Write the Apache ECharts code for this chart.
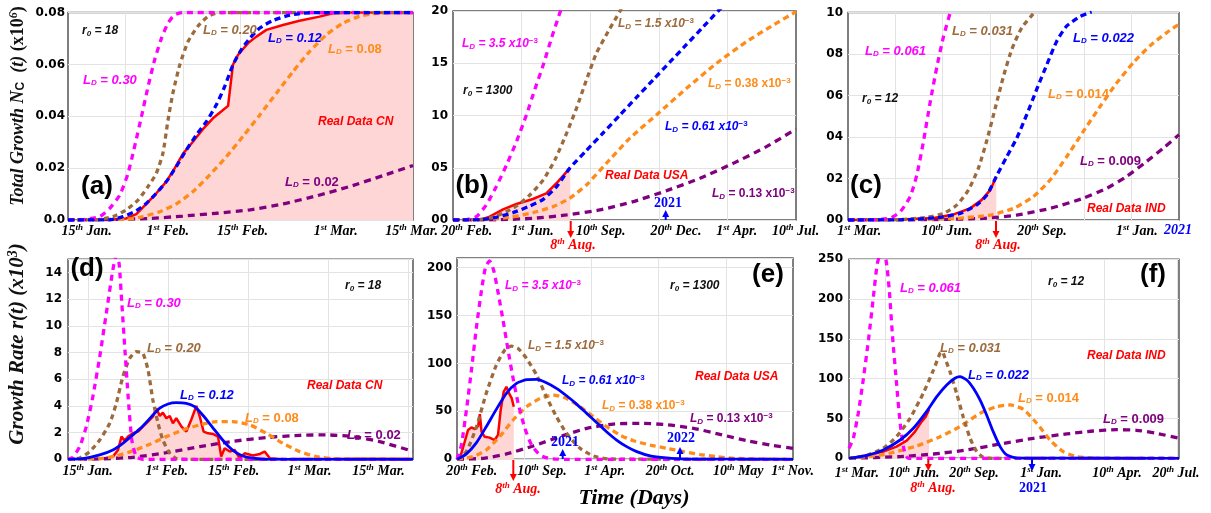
<!DOCTYPE html>
<html>
<head>
<meta charset="utf-8">
<script src="https://cdn.jsdelivr.net/npm/echarts@6/dist/echarts.min.js"></script>
<style>
  html, body { margin: 0; padding: 0; background: #fff; }
  #main { width: 1211px; height: 513px; }
</style>
</head>
<body>
<div id="main"></div>
<script>
// x is the position along each panel's time axis, 0..100 (left to right edge)

// ---- (a) total growth, China, r0 = 18 ----
var aMag = [[0,0],[5.3,0.0003],[9.2,0.0013],[12.1,0.0045],[15.0,0.0096],[17.4,0.018],[19.3,0.0283],[21.3,0.0399],[23.2,0.0514],[25.1,0.0617],[27.1,0.0701],[29.0,0.0759],[30.9,0.0791],[33.3,0.08],[100,0.08]]
var aBrown = [[0,0],[8.2,0.0001],[13.0,0.0013],[16.9,0.0039],[20.3,0.0077],[23.2,0.0129],[25.6,0.018],[27.5,0.0257],[29.0,0.0386],[30.4,0.0489],[32.4,0.0598],[34.8,0.0688],[37.7,0.0748],[40.6,0.0785],[44.0,0.08],[100,0.08]]
var aBlue = [[0,0],[12.1,0.0001],[15.9,0.0013],[19.8,0.0036],[22.7,0.0064],[25.6,0.0103],[28.5,0.0148],[31.4,0.0206],[34.3,0.027],[37.2,0.0328],[40.1,0.0379],[43.0,0.0444],[45.4,0.0514],[47.8,0.0598],[50.2,0.0656],[52.7,0.0701],[55.6,0.074],[59.4,0.0769],[64.3,0.079],[70.0,0.0799],[100,0.08]]
var aOrange = [[0,0],[16.9,0.0003],[21.7,0.0013],[26.6,0.0032],[31.4,0.0062],[36.2,0.0109],[41.1,0.0174],[45.9,0.0244],[50.7,0.0322],[55.6,0.0405],[60.4,0.0489],[65.2,0.0572],[70.0,0.0649],[74.9,0.0714],[79.7,0.0759],[84.5,0.0785],[89.4,0.0797],[94.2,0.08],[100,0.08]]
var aPurple = [[0,0],[9.2,0.0001],[23.7,0.0006],[33.3,0.0015],[43.0,0.0026],[52.7,0.0039],[62.3,0.0062],[72.0,0.0093],[81.6,0.0129],[91.3,0.0171],[100,0.021]]
var aReal = [[12.1,0.0001],[16.9,0.0006],[19.8,0.0023],[22.7,0.0062],[25.6,0.0103],[28.5,0.0148],[30.9,0.0199],[33.3,0.0255],[36.2,0.0302],[39.1,0.035],[42.0,0.0392],[44.4,0.0418],[46.4,0.044],[47.8,0.0598],[49.3,0.0637],[52.2,0.0682],[54.6,0.0707],[57.5,0.0733],[62.3,0.0752],[67.1,0.0768],[72.9,0.0784],[76.8,0.0797],[81.6,0.08],[100,0.08]]
var aTickPos = [5.4, 28.9, 50.6, 77.6, 99.6]
var aTickText = ['15|th|Jan.', '1|st|Feb.', '15|th|Feb.', '1|st|Mar.', '15|th|Mar.']
var aGrid = [16.67, 33.33, 50, 66.67, 83.33]

// ---- (b) total growth, USA, r0 = 1300 ----
var bMag = [[0,0],[3.9,0.03],[6.8,0.32],[9.7,1.44],[12.6,3.19],[15.6,5.26],[18.5,7.5],[21.4,10.05],[23.8,12.44],[26.3,14.83],[28.7,17.38],[31.1,19.78],[32.1,20.7]]
var bBrown = [[0,0],[6.8,0.03],[10.7,0.19],[14.6,0.64],[18.5,1.34],[22.4,2.39],[26.3,3.83],[29.7,5.74],[33.1,8.29],[36.0,10.69],[38.9,13.4],[41.8,15.95],[45.2,18.02],[48.6,19.94],[49.6,20.6]]
var bBlue = [[0,0],[7.8,0.03],[12.6,0.26],[17.5,0.7],[22.4,1.34],[26.3,1.98],[30.2,3.19],[34.0,4.94],[38.9,6.65],[43.8,8.35],[48.6,10.02],[53.5,11.73],[58.4,13.43],[63.2,15.1],[68.1,16.8],[73.0,18.5],[77.3,20.0],[78.5,20.4]]
var bOrange = [[0,0],[9.7,0.03],[16.5,0.26],[23.3,0.7],[29.2,1.28],[34.0,2.07],[38.9,3.35],[44.7,5.42],[51.5,7.81],[59.3,10.05],[68.1,12.6],[76.8,14.99],[85.6,17.07],[93.4,18.66],[100,19.94]]
var bPurple = [[0,0],[13.6,0.03],[23.3,0.16],[33.1,0.48],[42.8,0.96],[52.5,1.75],[62.3,2.81],[72.0,3.99],[81.7,5.42],[91.4,7.02],[100,8.71]]
var bReal = [[7.8,0],[10.7,0.32],[14.6,1.02],[18.5,1.53],[23.3,2.01],[27.2,2.55],[30.6,3.67],[34.2,5.01]]
var bTickPos = [4.0, 23.2, 43.1, 65.0, 82.7, 99.9]
var bTickText = ['20|th|Feb.', '1|st|Jun.', '10|th|Sep.', '20|th|Dec.', '1|st|Apr.', '10|th|Jul.']
var bGrid = [20, 40, 60, 80]

// ---- (c) total growth, India, r0 = 12 ----
var cMag = [[0,0],[8.8,0.02],[12.8,0.1],[15.8,0.4],[18.8,1.13],[20.8,2.18],[22.8,3.79],[24.8,5.65],[26.9,7.42],[28.9,8.87],[30.9,10.0],[31.4,10.24]]
var cBrown = [[0,0],[15.8,0.02],[23.8,0.13],[28.9,0.32],[32.9,0.73],[36.4,1.45],[39.4,2.5],[42.0,3.87],[44.5,5.4],[47.0,6.94],[49.5,8.23],[52.5,9.27],[56.5,10.03]]
var cBlue = [[0,0],[18.8,0.02],[27.9,0.13],[33.9,0.32],[38.9,0.73],[42.0,1.21],[44.8,2.1],[48.0,3.06],[51.0,3.95],[54.0,5.08],[57.0,6.29],[60.1,7.5],[63.1,8.63],[66.1,9.35],[70.1,9.81],[73.6,10.03]]
var cOrange = [[0,0],[20.8,0.02],[32.9,0.08],[43.0,0.24],[50.0,0.56],[56.0,1.13],[61.1,1.94],[66.1,3.06],[71.1,4.27],[76.2,5.48],[81.2,6.61],[86.2,7.58],[91.2,8.39],[96.3,9.03],[100,9.44]]
var cPurple = [[0,0],[25.9,0.02],[40.9,0.08],[51.0,0.24],[61.1,0.56],[71.1,1.05],[78.2,1.53],[84.2,2.1],[90.2,2.82],[95.3,3.47],[100,4.11]]
var cReal = [[0,0],[15.8,0.02],[25.9,0.1],[31.9,0.27],[36.9,0.56],[40.4,0.97],[43.0,1.45],[44.8,2.1]]
var cTickPos = [3.4, 29.9, 58.6, 87.3, 99.7]
var cTickText = ['1|st|Mar.', '10|th|Jun.', '20|th|Sep.', '1|st|Jan.', '2021']
var cGrid = [14.29, 28.57, 42.86, 57.14, 71.43, 85.71]

// ---- (d) growth rate, China ----
var dMag = [[0,0],[1.4,0.15],[3.4,0.95],[5.3,2.45],[7.2,4.7],[9.2,7.7],[11.1,10.95],[13.0,14.2],[14.0,15.3],[14.8,14.7],[15.6,11.7],[16.5,8.2],[17.5,4.45],[18.5,1.45],[19.8,0.2],[21.7,0],[100,0]]
var dBrown = [[0,0],[3.4,0.1],[6.3,0.58],[9.2,1.45],[12.1,2.7],[14.0,4.2],[15.9,6.2],[17.9,7.58],[19.8,8.08],[21.7,7.95],[23.2,6.7],[24.6,4.45],[26.1,2.7],[27.5,1.45],[29.5,0.45],[31.4,0.05],[34.3,0],[100,0]]
var dBlue = [[0,0],[4.3,0.05],[9.2,0.33],[13.0,0.7],[15.9,1.2],[18.8,1.83],[21.7,2.5],[24.2,3.2],[26.6,3.83],[29.0,4.15],[31.4,4.25],[34.3,4.2],[36.7,3.95],[38.6,3.45],[40.6,2.83],[42.5,2.2],[44.4,1.58],[46.4,1.0],[48.3,0.58],[50.7,0.25],[53.6,0.08],[57.5,0],[100,0]]
var dOrange = [[0,0],[9.2,0.05],[14.0,0.25],[18.8,0.63],[23.7,1.13],[28.5,1.7],[33.3,2.2],[38.2,2.58],[43.0,2.83],[47.8,2.83],[52.7,2.58],[57.5,1.95],[62.3,1.2],[67.1,0.58],[72.0,0.2],[76.8,0.05],[100,0]]
var dPurple = [[0,0],[9.2,0.03],[18.8,0.15],[28.5,0.5],[38.2,0.95],[47.8,1.35],[57.5,1.63],[67.1,1.8],[74.9,1.83],[82.6,1.7],[90.3,1.33],[100,0.6]]
var dReal = [[9.2,0],[13.0,0.2],[14.5,0.7],[15.5,1.7],[16.4,1.4],[17.4,1.7],[18.8,1.95],[20.3,2.08],[21.7,2.45],[23.2,2.83],[24.6,3.2],[25.6,3.83],[26.6,3.25],[27.5,3.5],[28.5,3.08],[29.5,3.25],[30.4,2.7],[31.4,3.08],[32.9,2.45],[34.3,2.08],[35.7,2.95],[37.2,4.0],[38.2,3.2],[39.3,2.08],[40.6,1.95],[42.0,1.9],[43.5,1.7],[44.4,0.2],[45.4,0.83],[46.9,0.58],[48.3,0.7],[49.8,0.08],[51.2,0.45],[53.6,0.28],[55.6,0.4],[57.0,0.58],[58.5,0.08],[62.3,0],[67.1,0.03],[76.8,0.03],[86.5,0.05],[100,0.03]]
var dTickPos = [5.7, 28.6, 48.0, 70.0, 90.0]
var dTickText = ['15|th|Jan.', '1|st|Feb.', '15|th|Feb.', '1|st|Mar.', '15|th|Mar.']
var dGrid = [5.8, 29.0, 52.2, 75.4, 98.6]

// ---- (e) growth rate, USA ----
var eMag = [[0,0],[1.3,14.9],[2.8,51.4],[4.3,93.1],[5.8,138.2],[7.3,176.4],[8.5,200.7],[9.7,206.9],[10.9,197.2],[12.2,174.7],[13.7,145.1],[15.2,113.9],[16.7,84.4],[18.2,58.3],[20.2,32.3],[22.2,14.9],[24.7,4.5],[27.6,0.7],[32.6,0],[100,0]]
var eBrown = [[0,0],[2.8,8.0],[5.8,34.0],[8.7,68.8],[11.7,98.3],[14.2,113.9],[16.2,118.1],[18.2,115.6],[20.7,105.2],[23.7,87.8],[26.6,65.3],[29.6,44.4],[32.6,27.1],[36.6,11.5],[40.6,3.5],[45.5,0.3],[100,0]]
var eBlue = [[0,0],[2.8,5.6],[5.8,17.4],[8.7,34.0],[11.7,52.1],[14.7,68.8],[17.7,79.2],[20.7,83.0],[23.7,83.3],[26.6,79.9],[29.6,74.0],[32.6,66.3],[35.6,57.6],[38.6,47.9],[41.6,38.2],[44.5,28.8],[47.5,20.1],[50.5,13.2],[53.5,8.0],[57.5,3.5],[62.4,1.4],[67.4,0.3],[100,0]]
var eOrange = [[0,0],[4.8,2.8],[8.7,9.7],[12.7,23.6],[16.7,41.0],[20.7,54.9],[24.7,63.5],[28.6,67.0],[32.6,63.5],[36.6,54.9],[40.6,44.4],[44.5,34.0],[48.5,25.3],[52.5,19.4],[57.5,14.9],[62.4,11.5],[67.4,8.0],[72.4,4.9],[77.3,2.8],[82.3,1.0],[100,0]]
var ePurple = [[0,0],[7.8,1.0],[14.7,5.6],[22.7,13.9],[30.6,23.6],[38.6,32.3],[46.5,36.8],[54.5,37.5],[62.4,36.1],[70.4,32.3],[78.3,26.0],[86.3,19.4],[93.2,14.9],[100,11.5]]
var eReal = [[0.3,0],[1.3,6.3],[2.3,18.4],[3.3,30.6],[4.3,33.3],[5.3,31.6],[6.3,34.7],[6.8,47.2],[7.3,28.8],[8.2,23.6],[9.7,22.6],[11.2,20.1],[12.2,25.3],[13.0,51.4],[13.9,70.5],[14.7,75.7],[15.5,68.8],[16.3,63.5],[16.9,54.9]]
var eTickPos = [4.4, 25.3, 44.0, 63.4, 83.7, 99.9]
var eTickText = ['20|th|Feb.', '10|th|Sep.', '1|st|Apr.', '20|th|Oct.', '10|th|May', '1|st|Nov.']
var eGrid = [20, 40, 60, 80]

// ---- (f) growth rate, India ----
var fMag = [[0,12.6],[1.3,25.1],[2.8,56.5],[4.3,98.4],[5.9,148.7],[7.4,203.1],[8.6,245.0],[9.9,259.6],[11.2,249.2],[12.2,211.5],[13.2,152.8],[14.4,94.2],[15.5,44.0],[16.7,10.5],[18.0,0],[100,0]]
var fBrown = [[0,0],[5.4,3.8],[10.4,12.6],[14.4,27.2],[18.5,50.3],[22.5,81.7],[25.6,111.0],[27.6,131.9],[28.3,134],[29.1,125.6],[30.6,108.9],[32.6,81.7],[34.6,52.3],[36.7,25.1],[38.7,8.4],[40.7,1.3],[43.7,0],[100,0]]
var fBlue = [[0,0],[5.4,3.8],[10.4,10.5],[15.5,23.0],[19.5,37.7],[23.5,58.6],[26.6,77.5],[29.6,92.1],[32.1,100.5],[33.6,102.6],[35.7,98.4],[37.7,87.9],[39.7,73.3],[41.7,54.4],[43.7,33.5],[45.8,14.7],[47.8,4.2],[50.8,0.4],[100,0]]
var fOrange = [[0,0],[10.4,4.6],[20.5,15.5],[27.6,27.2],[33.6,39.8],[39.7,56.5],[44.7,64.9],[48.8,67.0],[52.8,61.6],[56.9,44.0],[60.9,23.0],[64.9,8.4],[69.0,2.1],[76.1,0],[100,0]]
var fPurple = [[0,0],[15.5,2.1],[25.6,5.4],[35.7,10.5],[45.8,18.0],[55.9,25.1],[66.0,30.6],[74.0,34.3],[81.1,36.0],[87.1,35.2],[93.2,31.4],[100,25.1]]
var fReal = [[0.3,0],[5.4,3.4],[10.4,8.4],[14.4,14.7],[17.5,22.2],[20.0,33.5],[22.0,46.1],[23.2,52.0],[24.3,61.6]]
var fTickPos = [2.4, 19.7, 37.9, 58.2, 81.2, 99.1]
var fTickText = ['1|st|Mar.', '10|th|Jun.', '20|th|Sep.', '1|st|Jan.', '10|th|Apr.', '20|th|Jul.']
var fGrid = [10.9, 33.0, 55.2, 77.3, 99.4]

var C = { mag: '#ff00ff', brown: '#9c6b3d', blue: '#0000ff', orange: '#ff8c1a', purple: '#800080', red: '#ff0000' }
var DASH = { mag: [6, 5], brown: [5, 4], blue: [6, 4], orange: [6, 4], purple: [7, 5] }
var SERIF = 'Liberation Serif'
var SANS = 'Liberation Sans'

var xRich = {
  n: { fontFamily: SERIF, fontWeight: 'bold', fontStyle: 'italic', fontSize: 14, color: '#000' },
  s: { fontFamily: SERIF, fontWeight: 'bold', fontStyle: 'italic', fontSize: 9, color: '#000', padding: [0, 0, 7, 0] },
  y: { fontFamily: SERIF, fontWeight: 'bold', fontStyle: 'italic', fontSize: 14, color: '#0000ff' }
}

var grids = []
var xAxes = []
var yAxes = []
var series = []

function addPanel(i, p) {
  grids.push({
    left: p.box[0], top: p.box[1], width: p.box[2], height: p.box[3],
    show: true, borderColor: '#555', borderWidth: 1.5, backgroundColor: '#fff'
  })
  xAxes.push({
    gridIndex: i, type: 'value', min: 0, max: 100,
    axisLine: { show: false },
    // hidden ticks only place the vertical grid lines
    axisTick: { show: false, customValues: p.grid },
    splitLine: { show: true, lineStyle: { color: '#e3e3e3', width: 1 } },
    axisLabel: {
      customValues: p.tickPos, interval: 0, margin: p.xMargin, rich: xRich,
      formatter: function(v) {
        var k = p.tickPos.indexOf(v)
        if (k < 0) return ''
        var t = p.tickText[k]
        if (t.indexOf('|') < 0) return '{y|' + t + '}'
        var s = t.split('|')
        return '{n|' + s[0] + '}{s|' + s[1] + '}{n| ' + s[2] + '}'
      }
    }
  })
  yAxes.push({
    gridIndex: i, type: 'value', min: 0, max: p.yMax, interval: p.yStep,
    axisLine: { show: false }, axisTick: { show: false },
    splitLine: { show: true, lineStyle: { color: '#e3e3e3', width: 1 } },
    axisLabel: {
      margin: p.yMargin, color: '#000', fontFamily: 'DejaVu Sans', fontWeight: 'bold', fontSize: 12,
      formatter: p.yFmt
    }
  })
  // pink area under the real data, then the real data line
  series.push({
    type: 'line', xAxisIndex: i, yAxisIndex: i, data: p.real, showSymbol: false, silent: true, z: 1,
    lineStyle: { width: 0 }, areaStyle: { color: '#ffd6d6', opacity: 1 }
  })
  series.push({
    type: 'line', xAxisIndex: i, yAxisIndex: i, data: p.real, showSymbol: false, silent: true, z: 2,
    lineStyle: { color: C.red, width: 2.5 }
  })
  p.curves.forEach(function(c) {
    series.push({
      type: 'line', xAxisIndex: i, yAxisIndex: i, data: c[0], showSymbol: false, silent: true,
      smooth: 0.2, z: 3,
      lineStyle: { color: C[c[1]], width: c[2] ? 2.8 : 3.3, type: c[2] ? 'solid' : DASH[c[1]] }
    })
  })
}

function pad2(v) { return (v < 10 ? '0' : '') + v }

addPanel(0, {
  box: [68, 12.5, 345, 207.5], grid: aGrid, xMargin: 3, tickPos: aTickPos, tickText: aTickText,
  yMax: 0.08, yStep: 0.02, yMargin: 3,
  yFmt: function(v) { return v === 0 ? '0.0' : v.toFixed(2) },
  real: aReal,
  curves: [[aPurple, 'purple'], [aOrange, 'orange'], [aBrown, 'brown'], [aMag, 'mag'], [aBlue, 'blue']]
})
addPanel(1, {
  box: [453, 11, 343, 209], grid: bGrid, xMargin: 3, tickPos: bTickPos, tickText: bTickText,
  yMax: 20, yStep: 5, yMargin: 5, yFmt: pad2,
  real: bReal,
  curves: [[bPurple, 'purple'], [bOrange, 'orange'], [bBrown, 'brown'], [bMag, 'mag'], [bBlue, 'blue']]
})
addPanel(2, {
  box: [848, 12.5, 331, 207.5], grid: cGrid, xMargin: 3, tickPos: cTickPos, tickText: cTickText,
  yMax: 10, yStep: 2, yMargin: 5, yFmt: pad2,
  real: cReal,
  curves: [[cPurple, 'purple'], [cOrange, 'orange'], [cBrown, 'brown'], [cMag, 'mag'], [cBlue, 'blue']]
})
addPanel(3, {
  box: [68, 259.3, 345, 200], grid: dGrid, xMargin: 4, tickPos: dTickPos, tickText: dTickText,
  yMax: 15, yStep: 2, yMargin: 6,
  yFmt: function(v) { return v % 2 === 0 ? String(v) : '' },
  real: dReal,
  curves: [[dPurple, 'purple'], [dOrange, 'orange'], [dBrown, 'brown'], [dMag, 'mag'], [dBlue, 'blue', true]]
})
addPanel(4, {
  box: [457, 258, 336, 201.3], grid: eGrid, xMargin: 4, tickPos: eTickPos, tickText: eTickText,
  yMax: 210, yStep: 50, yMargin: 5,
  yFmt: function(v) { return v % 50 === 0 ? String(v) : '' },
  real: eReal,
  curves: [[ePurple, 'purple'], [eOrange, 'orange'], [eBrown, 'brown'], [eMag, 'mag'], [eBlue, 'blue', true]]
})
addPanel(5, {
  box: [849, 259.3, 330, 199], grid: fGrid, xMargin: 7, tickPos: fTickPos, tickText: fTickText,
  yMax: 250, yStep: 50, yMargin: 6,
  yFmt: function(v) { return String(v) },
  real: fReal,
  curves: [[fPurple, 'purple'], [fOrange, 'orange'], [fBrown, 'brown'], [fMag, 'mag'], [fBlue, 'blue', true]]
})

// ---- annotations ----
var graphics = []

function text(x, y, str, rich, align) {
  graphics.push({
    type: 'text', x: x, y: y, z: 100, silent: true,
    style: { text: str, rich: rich, align: align || 'left', verticalAlign: 'middle' }
  })
}

function ldNote(x, y, key, val, exp, upright) {
  var col = C[key]
  var big = exp ? 12 : 13
  var rich = {
    l: { fontFamily: SANS, fontWeight: 'bold', fontStyle: 'italic', fontSize: big, fill: col },
    v: { fontFamily: SANS, fontWeight: 'bold', fontStyle: upright ? 'normal' : 'italic', fontSize: big, fill: col },
    d: { fontFamily: SANS, fontWeight: 'bold', fontStyle: 'italic', fontSize: 8, fill: col, padding: [6, 0, 0, 0] },
    e: { fontFamily: SANS, fontWeight: 'bold', fontSize: 8, fill: col, padding: [0, 0, 7, 0] }
  }
  var s = '{l|L}{d|D}{v| = ' + val + '}'
  if (exp) s += '{v| x10}{e|\u22123}'
  text(x, y, s, rich)
}

function r0Note(x, y, val) {
  var rich = {
    v: { fontFamily: SANS, fontWeight: 'bold', fontStyle: 'italic', fontSize: 12, fill: '#111' },
    d: { fontFamily: SANS, fontWeight: 'bold', fontStyle: 'italic', fontSize: 8, fill: '#111', padding: [5, 0, 0, 0] }
  }
  text(x, y, '{v|r}{d|0}{v| = ' + val + '}', rich)
}

function realNote(x, y, str) {
  text(x, y, '{v|' + str + '}', {
    v: { fontFamily: SANS, fontWeight: 'bold', fontStyle: 'italic', fontSize: 12, fill: C.red }
  })
}

function panelTag(x, y, str) {
  text(x, y, '{v|' + str + '}', { v: { fontFamily: SANS, fontWeight: 'bold', fontSize: 26, fill: '#000' } }, 'center')
}

function arrow(x, y0, y1, col) {
  var dir = y1 > y0 ? 1 : -1
  graphics.push({
    type: 'line', z: 100, silent: true,
    shape: { x1: x, y1: y0, x2: x, y2: y1 - dir * 5 },
    style: { stroke: col, lineWidth: 2 }
  })
  graphics.push({
    type: 'polygon', z: 100, silent: true,
    shape: { points: [[x - 3.5, y1 - dir * 7], [x + 3.5, y1 - dir * 7], [x, y1]] },
    style: { fill: col }
  })
}

function augNote(x, y) {
  text(x, y, '{n|8}{s|th}{n| Aug.}', {
    n: { fontFamily: SERIF, fontWeight: 'bold', fontStyle: 'italic', fontSize: 14, fill: C.red },
    s: { fontFamily: SERIF, fontWeight: 'bold', fontStyle: 'italic', fontSize: 9, fill: C.red, padding: [0, 0, 7, 0] }
  }, 'center')
}

function yearNote(x, y, str) {
  text(x, y, '{v|' + str + '}', { v: { fontFamily: SERIF, fontWeight: 'bold', fontSize: 14, fill: C.blue } }, 'center')
}

// (a)
r0Note(82, 31, '18')
ldNote(83, 80, 'mag', '0.30')
ldNote(203, 30, 'brown', '0.20')
ldNote(268, 38, 'blue', '0.12')
ldNote(328, 49, 'orange', '0.08', false, true)
ldNote(285, 182, 'purple', '0.02', false, true)
realNote(318, 122, 'Real Data CN')
panelTag(97, 187, '(a)')
// (b)
ldNote(462, 44, 'mag', '3.5', true)
ldNote(618, 24, 'brown', '1.5', true)
ldNote(708, 84, 'orange', '0.38', true, true)
ldNote(665, 127, 'blue', '0.61', true)
ldNote(712, 194, 'purple', '0.13', true, true)
r0Note(463, 91, '1300')
realNote(605, 176, 'Real Data USA')
panelTag(472, 186, '(b)')
arrow(570.7, 221, 238, C.red)
augNote(573, 245)
arrow(665.7, 220, 210, C.blue)
yearNote(668, 203, '2021')
// (c)
ldNote(865, 51, 'mag', '0.061')
ldNote(952, 31, 'brown', '0.031')
ldNote(1073, 38, 'blue', '0.022')
ldNote(1048, 94, 'orange', '0.014', false, true)
ldNote(1080, 161, 'purple', '0.009', false, true)
r0Note(862, 99, '12')
realNote(1087, 209, 'Real Data IND')
panelTag(866, 186, '(c)')
arrow(996, 221, 238, C.red)
augNote(998, 245)
// (d)
panelTag(87, 269, '(d)')
r0Note(345, 286, '18')
ldNote(127, 303, 'mag', '0.30')
ldNote(147, 348, 'brown', '0.20')
ldNote(180, 395, 'blue', '0.12')
ldNote(245, 418, 'orange', '0.08', false, true)
ldNote(347, 435, 'purple', '0.02', false, true)
realNote(307, 386, 'Real Data CN')
// (e)
panelTag(768, 275, '(e)')
r0Note(670, 286, '1300')
ldNote(505, 286, 'mag', '3.5', true)
ldNote(528, 346, 'brown', '1.5', true)
ldNote(562, 381, 'blue', '0.61', true)
ldNote(602, 406, 'orange', '0.38', true, true)
ldNote(690, 419, 'purple', '0.13', true, true)
realNote(695, 377, 'Real Data USA')
arrow(513.3, 460, 481, C.red)
augNote(518, 489)
arrow(562.7, 459, 449, C.blue)
yearNote(565, 442, '2021')
arrow(680, 459, 447, C.blue)
yearNote(681, 438, '2022')
// (f)
panelTag(1153, 275, '(f)')
r0Note(1048, 282, '12')
ldNote(900, 288, 'mag', '0.061')
ldNote(940, 348, 'brown', '0.031')
ldNote(968, 375, 'blue', '0.022')
ldNote(1018, 398, 'orange', '0.014', false, true)
ldNote(1103, 419, 'purple', '0.009', false, true)
realNote(1087, 356, 'Real Data IND')
arrow(928.3, 459, 471, C.red)
augNote(933, 488)
arrow(1032, 459, 471, C.blue)
yearNote(1033, 488, '2021')

// axis titles
var titleRich = function(size) {
  return {
    t: { fontFamily: SERIF, fontWeight: 'bold', fontStyle: 'italic', fontSize: size, fill: '#111' },
    u: { fontFamily: SERIF, fontWeight: 'bold', fontSize: size, fill: '#111' },
    c: { fontFamily: SANS, fontWeight: 'bold', fontSize: Math.round(size * 0.65), fill: '#111', padding: [6, 0, 0, 0] },
    p: { fontFamily: SERIF, fontWeight: 'bold', fontStyle: 'italic', fontSize: Math.round(size * 0.65), fill: '#111', padding: [0, 0, 9, 0] }
  }
}
graphics.push({
  type: 'text', x: 18, y: 106, rotation: Math.PI / 2, z: 100, silent: true,
  style: {
    text: '{t|Total Growth N}{c|C}{t|  (t) }{u|(x10}{p|6}{u|)}',
    rich: titleRich(18), align: 'center', verticalAlign: 'middle'
  }
})
graphics.push({
  type: 'text', x: 18, y: 344, rotation: Math.PI / 2, z: 100, silent: true,
  style: {
    text: '{t|Growth Rate r(t) (x10}{p|3}{t|)}',
    rich: titleRich(21), align: 'center', verticalAlign: 'middle'
  }
})
graphics.push({
  type: 'text', x: 634, y: 498, z: 100, silent: true,
  style: {
    text: 'Time (Days)', fontFamily: SERIF, fontWeight: 'bold', fontStyle: 'italic', fontSize: 22,
    fill: '#000', align: 'center', verticalAlign: 'middle'
  }
})

var myChart = echarts.init(document.getElementById('main'))
myChart.setOption({
  animation: false,
  backgroundColor: '#fff',
  grid: grids,
  xAxis: xAxes,
  yAxis: yAxes,
  series: series,
  graphic: { elements: graphics }
})
</script>
</body>
</html>
